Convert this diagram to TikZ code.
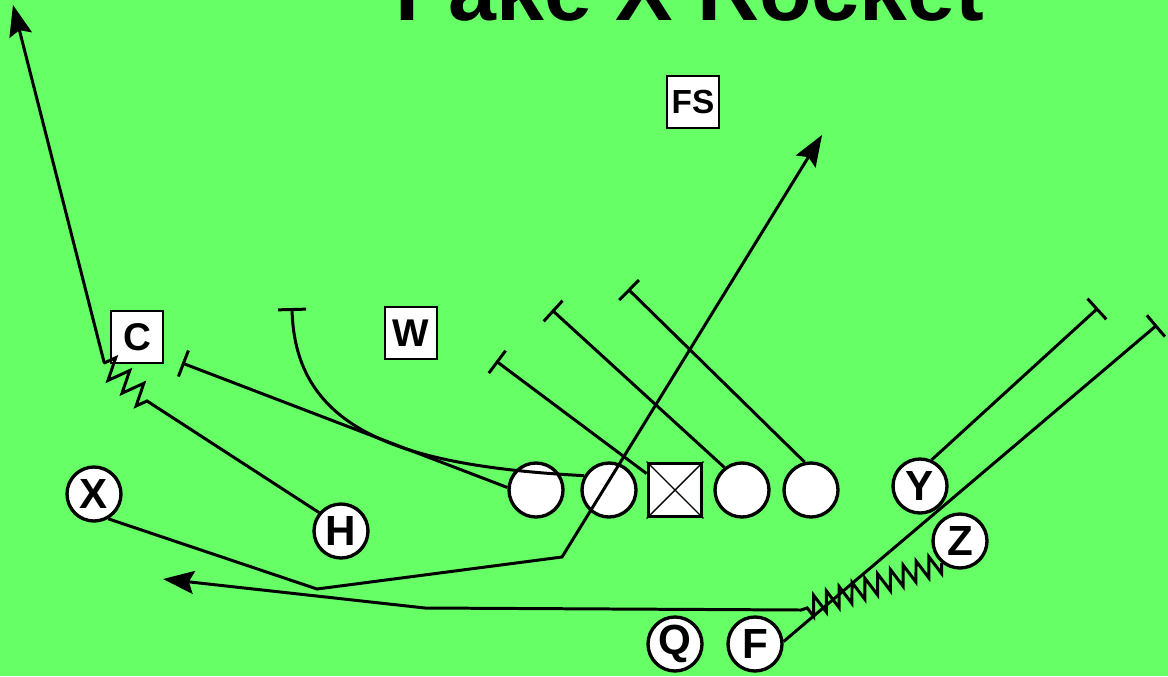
\documentclass[tikz,border=0pt]{standalone}
\usepackage{fontspec}
\setmainfont{Liberation Sans}
\usepackage{tikz}
\usetikzlibrary{arrows.meta,decorations.pathmorphing}
\definecolor{field}{RGB}{102,255,102}

\begin{document}
\begin{tikzpicture}[x=0.02cm, y=-0.02cm,
    player/.style={circle, draw, fill=white, line width=1.9pt, minimum size=1.08cm, inner sep=0pt, font=\fontsize{24}{24}\selectfont\bfseries},
    defender/.style={rectangle, draw, fill=white, line width=1pt, minimum size=1.04cm, inner sep=0pt, font=\fontsize{22}{22}\selectfont\bfseries},
    route/.style={line width=1.7pt, -{Stealth[length=6.2mm,width=4.6mm,inset=1mm]}},
    block/.style={line width=1.7pt, -{Bar[width=5.6mm]}},
    motion/.style={decoration={zigzag, amplitude=0.2cm, segment length=0.27cm}}]
    % Field
    \fill[field] (0,0) rectangle (1168,676);
    \clip (0,0) rectangle (1168,676);
    \node[anchor=base, font=\fontsize{49}{58}\selectfont\bfseries] (title) at (690,20) {Fake X Rocket};

    % Defense
    \node[defender] (C) at (137,337) {C};
    \node[defender] (W) at (411,333) {W};
    \node[defender, font=\fontsize{19}{19}\selectfont\bfseries] (FS) at (693,102) {FS};

    % Line
    \node[player] (o1) at (536,490) {};
    \node[player] (o2) at (609,490) {};
    \node[rectangle, draw, fill=white, line width=2.2pt, minimum size=1.06cm, inner sep=0pt] (ctr) at (675,490) {};
    \draw[line width=0.8pt] (ctr.north west) -- (ctr.south east) (ctr.north east) -- (ctr.south west);
    \node[player] (o4) at (742,490) {};
    \node[player] (o5) at (811,490) {};

    % Backs and receivers
    \node[player] (X) at (94,494) {X};
    \node[player] (H) at (341,531) {H};
    \node[player] (Y) at (920,486) {Y};
    \node[player] (Z) at (960,541) {Z};
    \node[player] (Q) at (675,644) {Q};
    \node[player] (F) at (755,644) {F};

    % Route points
    \coordinate (hbk) at (147,401);
    \coordinate (hzz) at (104,362);
    \coordinate (htip) at (13,5);
    \coordinate (xbk1) at (317,589);
    \coordinate (xbk2) at (562,557);
    \coordinate (xtip) at (822,135);
    \coordinate (zend) at (801,610);
    \coordinate (rbk) at (425,608);
    \coordinate (rtip) at (163,579);
    \coordinate (b1) at (182,363);
    \coordinate (b2) at (292,308);
    \coordinate (b3) at (496,361);
    \coordinate (b4) at (552,310);
    \coordinate (b5) at (628,289);
    \coordinate (by) at (1098,308);
    \coordinate (bf) at (1157,325);

    % Blocks
    \draw[block] (o1.175) -- (b1);
    \draw[block] (o2.150) .. controls (400,466) and (295,430) .. (b2);
    \draw[block] (ctr.150) -- (b3);
    \draw[block] (o4.128) -- (b4);
    \draw[block] (o5.103) -- (b5);
    \draw[block] (Y.66) -- (by);
    \draw[block] (F.5) -- (bf);

    % Routes
    \draw[route] (H.140) -- (hbk) decorate[motion, decoration={segment length=0.38cm, amplitude=0.22cm}] { -- (hzz) } -- (htip);
    \draw[route] (X.-60) -- (xbk1) -- (xbk2) -- (xtip);
    \draw[route] (Z.230) decorate[motion] { -- (zend) } -- (rbk) -- (rtip);
\end{tikzpicture}
\end{document}
